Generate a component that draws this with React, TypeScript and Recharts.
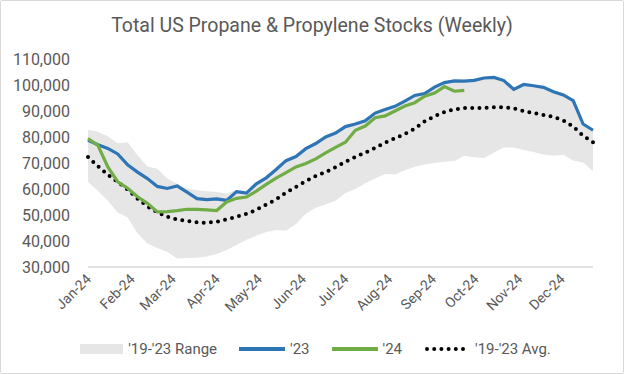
import { ComposedChart, Area, Line, XAxis, YAxis, Legend } from 'recharts'

// weekly stocks, thousand barrels (week 0 = first week of Jan)
const MONTHS = ['Jan-24', 'Feb-24', 'Mar-24', 'Apr-24', 'May-24', 'Jun-24', 'Jul-24', 'Aug-24', 'Sep-24', 'Oct-24', 'Nov-24', 'Dec-24']
const MONTH_START_DAY = [0, 31, 60, 91, 121, 152, 182, 213, 244, 274, 305, 335]
const Y_TICKS = [30000, 40000, 50000, 60000, 70000, 80000, 90000, 100000, 110000]

const RANGE_LOW = [
  62.7, 59.3, 55.5, 51.0, 49.0, 43.0, 39.0, 37.3, 35.8, 33.3,
  33.5, 33.6, 34.0, 35.0, 36.5, 38.5, 40.5, 42.0, 43.5, 44.2,
  44.0, 46.5, 50.5, 52.8, 54.0, 55.5, 58.5, 60.0, 62.2, 64.0,
  65.8, 65.6, 67.2, 68.6, 69.4, 70.0, 70.5, 70.8, 72.8, 72.2,
  71.9, 74.0, 76.0, 76.0, 75.0, 74.2, 73.3, 72.8, 73.2, 71.0,
  70.2, 66.8,
]
const RANGE_HIGH = [
  82.8, 82.0, 80.3, 77.6, 78.0, 73.0, 68.7, 67.8, 64.0, 62.0,
  60.2, 59.5, 59.1, 58.8, 58.3, 59.6, 59.2, 62.5, 64.8, 68.0,
  71.4, 73.0, 76.0, 78.0, 80.5, 82.0, 84.6, 85.4, 86.6, 89.6,
  91.1, 92.0, 94.0, 96.3, 97.2, 99.5, 101.3, 102.0, 102.0, 102.3,
  103.1, 103.3, 102.2, 99.0, 100.6, 100.1, 99.6, 98.0, 96.7, 94.5,
  85.5, 83.0,
]
const STOCKS_23 = [
  78.7, 77.0, 75.6, 73.5, 69.3, 66.5, 64.0, 61.0, 60.2, 61.2,
  58.8, 56.3, 55.9, 56.2, 55.6, 59.0, 58.4, 62.0, 64.3, 67.5,
  70.9, 72.5, 75.5, 77.5, 80.0, 81.5, 84.0, 85.0, 86.2, 89.2,
  90.6, 91.8, 93.8, 96.0, 96.7, 99.2, 100.9, 101.6, 101.5, 101.8,
  102.7, 102.9, 101.7, 98.3, 100.2, 99.7, 99.1, 97.4, 96.2, 94.0,
  85.0, 82.6,
]
const STOCKS_24 = [
  79.4, 76.8, 68.5, 62.8, 60.3, 57.0, 54.5, 51.2, 51.3, 51.7,
  52.2, 52.2, 52.0, 51.7, 55.0, 56.4, 56.9, 59.2, 61.8, 64.2,
  66.3, 68.5, 69.8, 71.6, 73.9, 76.0, 78.0, 82.6, 84.2, 87.4,
  88.1, 90.0, 91.9, 93.2, 95.7, 96.9, 99.4, 97.6, 97.9,
]
const AVG_19_23 = [
  72.3, 68.8, 65.5, 62.7, 59.8, 56.3, 53.3, 51.0, 49.3, 48.3,
  47.7, 47.2, 47.0, 47.4, 48.3, 49.3, 50.4, 52.0, 54.0, 56.0,
  58.6, 60.8, 63.0, 65.0, 66.5, 68.4, 70.5, 72.3, 74.0, 75.8,
  77.8, 79.5, 81.2, 83.2, 86.0, 88.0, 89.6, 90.6, 91.2, 91.2,
  91.2, 91.4, 91.4, 91.0, 90.0, 89.2, 88.5, 87.7, 86.4, 84.0,
  80.5, 78.0,
]

const data = RANGE_LOW.map((lo, i) => ({
  week: i,
  range: [lo * 1000, RANGE_HIGH[i] * 1000],
  y23: STOCKS_23[i] * 1000,
  y24: i < STOCKS_24.length ? STOCKS_24[i] * 1000 : null,
  avg: AVG_19_23[i] * 1000,
}))
const monthTicks = MONTH_START_DAY.map(d => d / 7)

const FONT = 'Roboto, "Liberation Sans", sans-serif'
const TEXT = '#595959'
const BLUE = '#2e75b6'
const GREEN = '#70ad47'
const GRAY = '#e7e6e6'

function MonthTick({ x, y, index }: { x?: number; y?: number; index?: number }) {
  const tx = (x ?? 0) + 4
  const ty = (y ?? 0) + 5
  return (
    <text x={tx} y={ty} transform={`rotate(-45 ${tx} ${ty})`} textAnchor="end"
      fill={TEXT} fontSize={14} fontFamily={FONT}>
      {MONTHS[index ?? 0]}
    </text>
  )
}

function Swatch({ kind, color }: { kind: string; color: string }) {
  if (kind === 'rect') return <span style={{ display: 'inline-block', width: 43, height: 10, background: color }} />
  return (
    <svg width={46} height={10}>
      {kind === 'dots'
        ? <line x1={3} y1={5} x2={43} y2={5} stroke={color} strokeWidth={4} strokeDasharray="0 7.2" strokeLinecap="round" />
        : <line x1={0} y1={5} x2={46} y2={5} stroke={color} strokeWidth={4} strokeLinecap="round" />}
    </svg>
  )
}

const LEGEND_ITEMS = [
  { label: "'19-'23 Range", kind: 'rect', color: GRAY },
  { label: "'23", kind: 'line', color: BLUE },
  { label: "'24", kind: 'line', color: GREEN },
  { label: "'19-'23 Avg.", kind: 'dots', color: '#000' },
]

function LegendContent() {
  return (
    <div style={{
      display: 'flex', justifyContent: 'center', alignItems: 'center', height: 20, paddingLeft: 7,
      fontFamily: FONT, fontSize: 15, color: TEXT, gap: 22,
    }}>
      {LEGEND_ITEMS.map(it => (
        <span key={it.label} style={{ display: 'flex', alignItems: 'center', gap: 5 }}>
          <Swatch kind={it.kind} color={it.color} />
          <span>{it.label}</span>
        </span>
      ))}
    </div>
  )
}

export default function App() {
  return (
    <div style={{ position: 'relative', width: 624, height: 374, background: '#fff' }}>
      <style>{'body{margin:0}'}</style>
      <div style={{
        position: 'absolute', top: 14, left: 0, width: 624, textAlign: 'center',
        fontFamily: FONT, fontSize: 19.5, color: TEXT,
      }}>
        Total US Propane &amp; Propylene Stocks (Weekly)
      </div>
      <ComposedChart width={624} height={374} data={data}
        margin={{ top: 59, right: 31, bottom: 15, left: 0 }}>
        <XAxis dataKey="week" type="number" domain={[0, 51]} ticks={monthTicks} interval={0}
          tick={<MonthTick />} tickLine={false} height={72}
          axisLine={{ stroke: '#d9d9d9', strokeWidth: 1.5 }} />
        <YAxis domain={[30000, 110000]} ticks={Y_TICKS} width={88} tickMargin={12}
          axisLine={false} tickLine={false}
          tick={{ fill: TEXT, fontSize: 16, fontFamily: FONT }}
          tickFormatter={(v: number) => v.toLocaleString('en-US')} />
        <Legend verticalAlign="bottom" content={<LegendContent />} wrapperStyle={{ left: 0, width: 624 }} />
        <Area dataKey="range" name="'19-'23 Range" type="linear" fill={GRAY} fillOpacity={1} stroke="none" isAnimationActive={false} />
        <Line dataKey="avg" name="'19-'23 Avg." type="linear" stroke="#000" strokeWidth={4}
          strokeDasharray="0 7.2" strokeLinecap="round" dot={false} isAnimationActive={false} />
        <Line dataKey="y23" name="'23" type="linear" stroke={BLUE} strokeWidth={3.2} dot={false} isAnimationActive={false} />
        <Line dataKey="y24" name="'24" type="linear" stroke={GREEN} strokeWidth={3.2} dot={false} isAnimationActive={false} />
      </ComposedChart>
      <div style={{
        position: 'absolute', inset: 0, border: '1px solid #d9d9d9', borderRadius: 2, pointerEvents: 'none',
      }} />
    </div>
  )
}
